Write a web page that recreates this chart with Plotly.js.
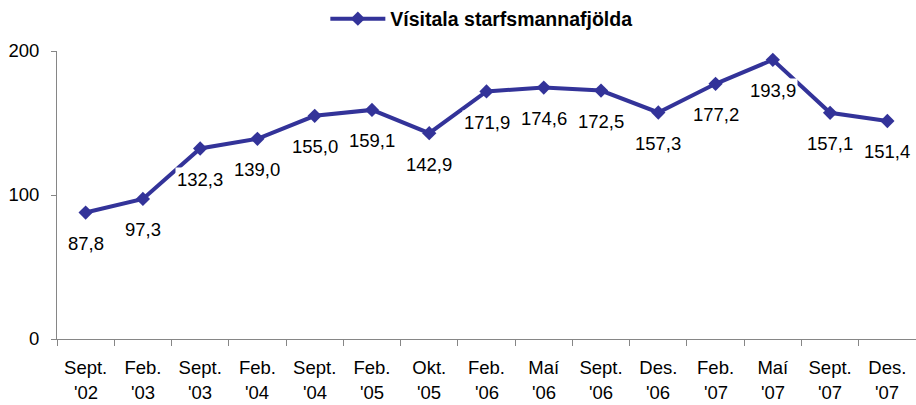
<!DOCTYPE html>
<html>
<head>
<meta charset="utf-8">
<script src="https://cdn.plot.ly/plotly-3.0.1.min.js"></script>
<style>
  html, body { margin: 0; padding: 0; background: #fff; }
  #chart { width: 916px; height: 405px; }
</style>
</head>
<body>
<div id="chart"></div>
<script>
const months = [
  "Sept.", "Feb.", "Sept.", "Feb.", "Sept.", "Feb.", "Okt.", "Feb.",
  "Maí", "Sept.", "Des.", "Feb.", "Maí", "Sept.", "Des.",
];
const years = [
  "'02", "'03", "'03", "'04", "'04", "'05", "'05", "'06",
  "'06", "'06", "'06", "'07", "'07", "'07", "'07",
];
const indexValues = [
  87.8, 97.3, 132.3, 139.0, 155.0, 159.1, 142.9, 171.9, 174.6, 172.5,
  157.3, 177.2, 193.9, 157.1, 151.4,
];
const seriesName = "Vísitala starfsmannafjölda";
const yTicks = [0, 100, 200];

const LINE_COLOR = "#333399";
const AXIS_COLOR = "#868686";
const FONT = "Liberation Sans, Arial, sans-serif";

// category keys: month + year, so repeated month names stay distinct
const periods = months.map((m, i) => `${m} ${years[i]}`);

function formatComma(value) {
  return value.toFixed(1).replace(".", ",");
}

const trace = {
  type: "scatter",
  mode: "lines+markers",
  x: periods,
  y: indexValues,
  name: seriesName,
  line: { color: LINE_COLOR, width: 4 },
  marker: { symbol: "diamond", size: 11, color: LINE_COLOR },
  cliponaxis: false,
};

// value labels sit below each point on a white box, like the original
const valueLabels = indexValues.map((value, i) => ({
  x: periods[i],
  y: value,
  xref: "x",
  yref: "y",
  text: formatComma(value),
  showarrow: false,
  yshift: -31,
  bgcolor: "#ffffff",
  font: { family: FONT, size: 18.5, color: "#000" },
}));

// second line of the category labels, spaced like the original
const yearLabels = years.map((yr, i) => ({
  x: periods[i],
  y: 0,
  xref: "x",
  yref: "paper",
  text: yr,
  showarrow: false,
  yanchor: "middle",
  yshift: -53,
  font: { family: FONT, size: 18.5, color: "#000" },
}));

const layout = {
  width: 916,
  height: 405,
  paper_bgcolor: "#fff",
  plot_bgcolor: "#fff",
  margin: { l: 57, r: 0, t: 51, b: 66, autoexpand: false },
  font: { family: FONT, size: 18.5, color: "#000" },
  showlegend: true,
  legend: {
    orientation: "h",
    x: 0.494,
    xanchor: "center",
    y: 1.111,
    yanchor: "middle",
    itemwidth: 55,
    font: { family: FONT, size: 19.5, color: "#000", weight: "bold" },
  },
  xaxis: {
    type: "category",
    range: [-0.5, periods.length - 0.5],
    tickvals: periods,
    ticktext: months,
    showline: true,
    linecolor: AXIS_COLOR,
    linewidth: 1,
    ticks: "outside",
    tickson: "boundaries",
    ticklen: 6,
    tickcolor: AXIS_COLOR,
    showgrid: false,
    zeroline: false,
    tickangle: 0,
    ticklabelstandoff: 12,
  },
  yaxis: {
    range: [0, 200],
    tickvals: yTicks,
    ticktext: yTicks.map(String),
    showline: true,
    linecolor: AXIS_COLOR,
    linewidth: 1,
    ticks: "outside",
    ticklen: 5,
    tickcolor: AXIS_COLOR,
    showgrid: false,
    zeroline: false,
    ticklabelstandoff: 8,
  },
  annotations: [...valueLabels, ...yearLabels],
};

Plotly.newPlot("chart", [trace], layout, { staticPlot: true, displayModeBar: false });
</script>
</body>
</html>
